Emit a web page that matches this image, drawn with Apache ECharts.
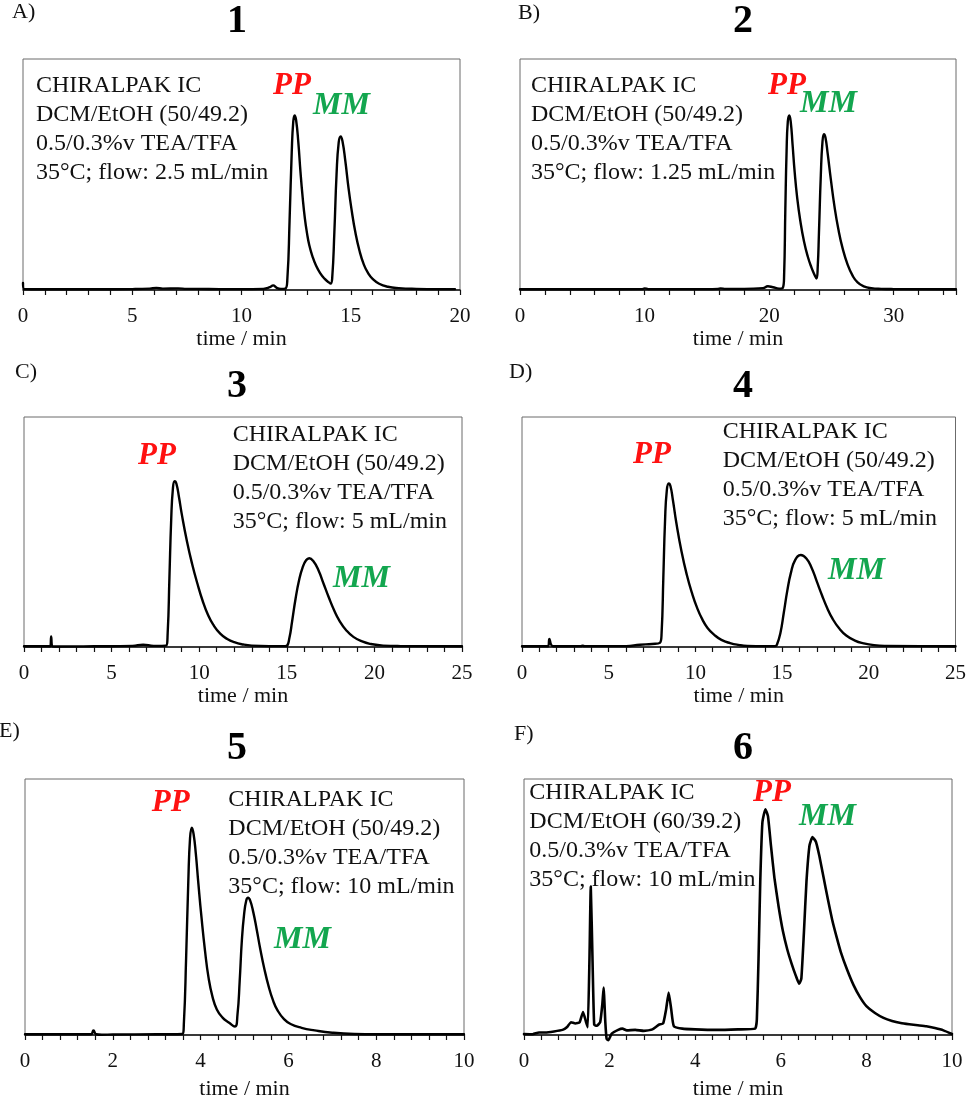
<!DOCTYPE html>
<html>
<head>
<meta charset="utf-8">
<title>Chiral HPLC chromatograms</title>
<script src="https://cdn.jsdelivr.net/npm/echarts@6/dist/echarts.min.js"></script>
<style>
  html, body { margin: 0; padding: 0; background: #fff; }
  #chart { width: 969px; height: 1101px; }
</style>
</head>
<body>
<div id="chart"></div>
<script>
// chromatogram traces, [time (min), relative signal]
var trace1 = [
  [0, 0.03], [0.06, 0.004], [1, 0.003], [3, 0.003], [5, 0.004], [5.8, 0.006], [6.1, 0.009], [6.4, 0.006],
  [7.1, 0.007], [7.5, 0.005], [8, 0.005], [9, 0.004], [10, 0.004], [11, 0.005], [11.3, 0.012], [11.45, 0.02],
  [11.6, 0.01], [11.8, 0.005], [12.0, 0.006], [12.1, 0.05], [12.2, 0.3], [12.3, 0.6], [12.37, 0.73], [12.43, 0.756],
  [12.5, 0.735], [12.6, 0.64], [12.7, 0.51], [12.8, 0.4], [12.9, 0.31], [13.0, 0.245], [13.1, 0.195], [13.25, 0.145],
  [13.4, 0.108], [13.6, 0.073], [13.8, 0.049], [14.0, 0.033], [14.08, 0.028], [14.15, 0.05], [14.25, 0.25], [14.35, 0.5],
  [14.45, 0.64], [14.54, 0.665], [14.62, 0.645], [14.75, 0.56], [14.9, 0.44], [15.05, 0.34], [15.2, 0.255],
  [15.4, 0.17], [15.6, 0.11], [15.8, 0.072], [16, 0.048], [16.3, 0.027], [16.7, 0.014], [17.2, 0.008], [18, 0.005],
  [19, 0.004], [19.77, 0.004]
];
var trace2 = [
  [0, 0.003], [5, 0.003], [9.8, 0.004], [10, 0.007], [10.3, 0.004], [15, 0.004], [15.9, 0.005], [16.1, 0.007],
  [16.5, 0.005], [18, 0.005], [19.5, 0.008], [19.9, 0.016], [20.3, 0.012], [20.8, 0.006], [21.1, 0.01],
  [21.2, 0.06], [21.3, 0.35], [21.4, 0.6], [21.5, 0.73], [21.62, 0.756], [21.74, 0.725], [21.88, 0.63],
  [22.05, 0.51], [22.25, 0.4], [22.5, 0.3], [22.8, 0.21], [23.1, 0.145], [23.4, 0.097], [23.65, 0.065], [23.8, 0.05],
  [23.9, 0.1], [24.0, 0.25], [24.15, 0.5], [24.28, 0.64], [24.4, 0.675], [24.52, 0.66], [24.7, 0.59], [24.95, 0.48],
  [25.25, 0.36], [25.55, 0.265], [25.9, 0.18], [26.3, 0.11], [26.7, 0.062], [27.1, 0.033], [27.6, 0.016],
  [28.2, 0.008], [29, 0.005], [30, 0.004], [35, 0.003]
];
var trace3 = [
  [0, 0.003], [1.5, 0.003], [1.55, 0.046], [1.62, 0.003], [2, 0.002], [4, 0.003], [6.2, 0.005], [6.8, 0.01],
  [7.4, 0.005], [8.1, 0.006], [8.2, 0.06], [8.3, 0.3], [8.4, 0.55], [8.5, 0.69], [8.6, 0.721], [8.7, 0.71],
  [8.85, 0.65], [9.0, 0.58], [9.3, 0.46], [9.6, 0.36], [9.9, 0.275], [10.2, 0.2], [10.5, 0.14], [10.8, 0.097],
  [11.2, 0.058], [11.6, 0.035], [12, 0.021], [12.5, 0.011], [13, 0.006], [14, 0.004], [14.9, 0.004],
  [15.0, 0.005], [15.15, 0.04], [15.3, 0.11], [15.5, 0.21], [15.7, 0.29], [15.9, 0.345], [16.1, 0.377],
  [16.28, 0.386], [16.5, 0.375], [16.8, 0.335], [17.1, 0.275], [17.4, 0.215], [17.7, 0.16], [18.0, 0.115],
  [18.4, 0.072], [18.8, 0.044], [19.3, 0.024], [19.8, 0.013], [20.5, 0.006], [21.5, 0.004], [25, 0.003]
];
var trace4 = [
  [0, 0.003], [1.5, 0.003], [1.58, 0.035], [1.68, 0.01], [1.8, 0.003], [3.4, 0.004], [3.5, 0.006], [3.6, 0.004],
  [6, 0.004], [6.8, 0.01], [7.5, 0.013], [7.95, 0.018], [8.05, 0.06], [8.15, 0.3], [8.25, 0.55], [8.35, 0.68],
  [8.46, 0.711], [8.56, 0.7], [8.7, 0.64], [8.9, 0.54], [9.2, 0.415], [9.5, 0.315], [9.8, 0.235], [10.1, 0.17],
  [10.4, 0.12], [10.7, 0.083], [11.1, 0.052], [11.5, 0.031], [12, 0.017], [12.5, 0.009], [13, 0.005], [14, 0.004],
  [14.6, 0.004], [14.7, 0.01], [14.9, 0.06], [15.1, 0.15], [15.3, 0.245], [15.5, 0.32], [15.75, 0.378],
  [16.08, 0.4], [16.4, 0.385], [16.7, 0.345], [17.0, 0.285], [17.3, 0.225], [17.6, 0.17], [17.9, 0.124],
  [18.3, 0.08], [18.7, 0.05], [19.2, 0.028], [19.7, 0.016], [20.3, 0.008], [21, 0.005], [25, 0.003]
];
var trace5 = [
  [0, 0.003], [1.5, 0.003], [1.56, 0.018], [1.62, 0.003], [1.75, 0.001], [2, 0.002], [3, 0.003], [3.58, 0.004],
  [3.62, 0.05], [3.67, 0.3], [3.72, 0.6], [3.76, 0.77], [3.8, 0.81], [3.84, 0.785], [3.89, 0.71], [3.95, 0.59],
  [4.02, 0.46], [4.1, 0.33], [4.18, 0.225], [4.27, 0.15], [4.37, 0.1], [4.5, 0.068], [4.65, 0.048],
  [4.78, 0.033], [4.84, 0.08], [4.89, 0.21], [4.94, 0.37], [4.99, 0.47], [5.04, 0.525], [5.08, 0.536],
  [5.13, 0.525], [5.2, 0.48], [5.28, 0.41], [5.36, 0.335], [5.45, 0.26], [5.55, 0.19], [5.65, 0.135],
  [5.75, 0.097], [5.9, 0.062], [6.05, 0.043], [6.3, 0.028], [6.6, 0.018], [7.0, 0.009], [7.5, 0.004],
  [8, 0.003], [10, 0.003]
];
var trace6 = [
  [0, 0.004], [0.2, 0.003], [0.35, 0.01], [0.5, 0.01], [0.7, 0.014], [0.9, 0.02], [1.0, 0.03], [1.1, 0.05],
  [1.2, 0.045], [1.3, 0.05], [1.38, 0.09], [1.45, 0.05], [1.49, 0.03], [1.53, 0.3], [1.56, 0.58], [1.6, 0.3],
  [1.64, 0.04], [1.7, 0.036], [1.78, 0.05], [1.83, 0.12], [1.86, 0.185], [1.9, 0.05], [1.93, -0.015],
  [1.97, -0.02], [2.05, 0.005], [2.2, 0.02], [2.3, 0.025], [2.4, 0.018], [2.6, 0.02], [2.8, 0.016], [3.0, 0.022],
  [3.15, 0.04], [3.25, 0.045], [3.32, 0.1], [3.38, 0.166], [3.44, 0.1], [3.5, 0.035], [3.7, 0.025], [4, 0.022],
  [4.5, 0.02], [5, 0.022], [5.4, 0.025], [5.44, 0.06], [5.48, 0.3], [5.52, 0.6], [5.57, 0.83], [5.64, 0.882],
  [5.7, 0.855], [5.77, 0.74], [5.85, 0.615], [5.95, 0.5], [6.05, 0.405], [6.15, 0.335], [6.25, 0.28], [6.35, 0.232],
  [6.43, 0.2], [6.48, 0.22], [6.54, 0.4], [6.6, 0.6], [6.67, 0.74], [6.74, 0.773], [6.82, 0.755], [6.9, 0.7],
  [7.0, 0.615], [7.1, 0.53], [7.2, 0.45], [7.3, 0.385], [7.4, 0.325], [7.55, 0.255], [7.7, 0.195], [7.85, 0.148],
  [8.0, 0.113], [8.2, 0.086], [8.4, 0.067], [8.6, 0.055], [8.8, 0.047], [9.0, 0.042], [9.2, 0.038],
  [9.4, 0.034], [9.6, 0.027], [9.8, 0.018], [10, 0.004]
];

// axis extents: max, minor tick step, labelled step
var axisMax = [20, 35, 25, 25, 10, 10];
var tickStep = [1, 2, 1, 1, 0.4, 0.4];
var labelStep = [5, 10, 5, 5, 2, 2];

var panelLetters = ['A)', 'B)', 'C)', 'D)', 'E)', 'F)'];
var compoundNames = ['1', '2', '3', '4', '5', '6'];
var conditions = [
  ['CHIRALPAK IC', 'DCM/EtOH (50/49.2)', '0.5/0.3%v TEA/TFA', '35°C; flow: 2.5 mL/min'],
  ['CHIRALPAK IC', 'DCM/EtOH (50/49.2)', '0.5/0.3%v TEA/TFA', '35°C; flow: 1.25 mL/min'],
  ['CHIRALPAK IC', 'DCM/EtOH (50/49.2)', '0.5/0.3%v TEA/TFA', '35°C; flow: 5 mL/min'],
  ['CHIRALPAK IC', 'DCM/EtOH (50/49.2)', '0.5/0.3%v TEA/TFA', '35°C; flow: 5 mL/min'],
  ['CHIRALPAK IC', 'DCM/EtOH (50/49.2)', '0.5/0.3%v TEA/TFA', '35°C; flow: 10 mL/min'],
  ['CHIRALPAK IC', 'DCM/EtOH (60/39.2)', '0.5/0.3%v TEA/TFA', '35°C; flow: 10 mL/min']
];

var traces = [trace1, trace2, trace3, trace4, trace5, trace6];

// layout (pixels)
var grids = [
  { left: 23, top: 59, width: 437, height: 231 },
  { left: 520, top: 59, width: 436, height: 231 },
  { left: 24, top: 417, width: 438, height: 230 },
  { left: 522, top: 417, width: 437, height: 230 },
  { left: 25, top: 779, width: 439, height: 258 },
  { left: 524, top: 779, width: 428, height: 257 }
];
var nameGaps = [29, 29, 32, 32, 43, 43];
var letterPos = [[12, 12], [518, 13], [15, 372], [509, 372], [-1, 731], [514, 734]];
var numberPos = [[237, 22], [743, 22], [237, 387], [743, 387], [237, 749], [743, 749]];
var condPos = [[36, 71.5], [531, 71.5], [232.7, 420.5], [722.7, 417], [228.3, 785], [529.3, 778]];
var ppPos = [[273, 86], [768, 86], [138, 456], [633, 455], [151.7, 802.7], [753, 792.7]];
var mmPos = [[313, 106], [800, 104], [333, 579], [828, 571], [274, 939.3], [799, 816.7]];

var SERIF = '"Liberation Serif", "Times New Roman", serif';

function onStep(v, step) {
  var k = v / step;
  return Math.abs(k - Math.round(k)) < 1e-6;
}

var option = {
  backgroundColor: '#fff',
  animation: false,
  grid: [],
  xAxis: [],
  yAxis: [],
  series: [],
  graphic: []
};

grids.forEach(function (g, i) {
  option.grid.push({
    left: g.left, top: g.top, width: g.width, height: g.height,
    show: true, borderColor: '#6b6b6b', borderWidth: 1, backgroundColor: 'transparent'
  });

  option.xAxis.push({
    type: 'value', gridIndex: i,
    min: 0, max: axisMax[i], interval: tickStep[i],
    name: 'time / min', nameLocation: 'middle', nameGap: nameGaps[i],
    nameTextStyle: { fontFamily: SERIF, fontSize: 22, color: '#111' },
    axisLine: { show: true, onZero: false, lineStyle: { color: '#111', width: 1.5 } },
    axisTick: { show: true, inside: false, length: 5, lineStyle: { color: '#111', width: 1.2 } },
    splitLine: { show: false },
    axisLabel: {
      margin: 16, fontFamily: SERIF, fontSize: 21, color: '#111',
      showMinLabel: true, showMaxLabel: true,
      formatter: (function (step) {
        return function (v) { return onStep(v, step) ? String(Math.round(v)) : ''; };
      })(labelStep[i])
    }
  });

  option.yAxis.push({
    type: 'value', gridIndex: i, min: 0, max: 1, show: false
  });

  option.series.push({
    type: 'line', xAxisIndex: i, yAxisIndex: i,
    data: traces[i],
    showSymbol: false, symbol: 'none',
    smooth: i === 5 ? 0.15 : 0.5,
    clip: false,
    lineStyle: { color: '#000', width: i === 5 ? 2.6 : 2.4, join: 'round', cap: 'round' },
    silent: true
  });

  option.graphic.push({
    type: 'text', x: letterPos[i][0], y: letterPos[i][1],
    style: { text: panelLetters[i], font: '22px ' + SERIF, fill: '#111', textAlign: 'left', textVerticalAlign: 'middle' }
  });
  option.graphic.push({
    type: 'text', x: numberPos[i][0], y: numberPos[i][1],
    style: { text: compoundNames[i], font: 'bold 40px ' + SERIF, fill: '#000', textAlign: 'center', textVerticalAlign: 'middle' }
  });
  option.graphic.push({
    type: 'text', x: condPos[i][0], y: condPos[i][1],
    style: {
      text: conditions[i].join('\n'), font: '24px ' + SERIF, lineHeight: 29,
      fill: '#111', textAlign: 'left', textVerticalAlign: 'top'
    }
  });
  option.graphic.push({
    type: 'text', x: ppPos[i][0], y: ppPos[i][1],
    style: { text: 'PP', font: 'italic bold 31px ' + SERIF, fill: '#ff1111', textAlign: 'left', textVerticalAlign: 'middle' }
  });
  option.graphic.push({
    type: 'text', x: mmPos[i][0], y: mmPos[i][1],
    style: { text: 'MM', font: 'italic bold 32px ' + SERIF, fill: '#13a64f', textAlign: 'left', textVerticalAlign: 'middle' }
  });
});

var chart = echarts.init(document.getElementById('chart'), null, { renderer: 'canvas' });
chart.setOption(option);
</script>
</body>
</html>
